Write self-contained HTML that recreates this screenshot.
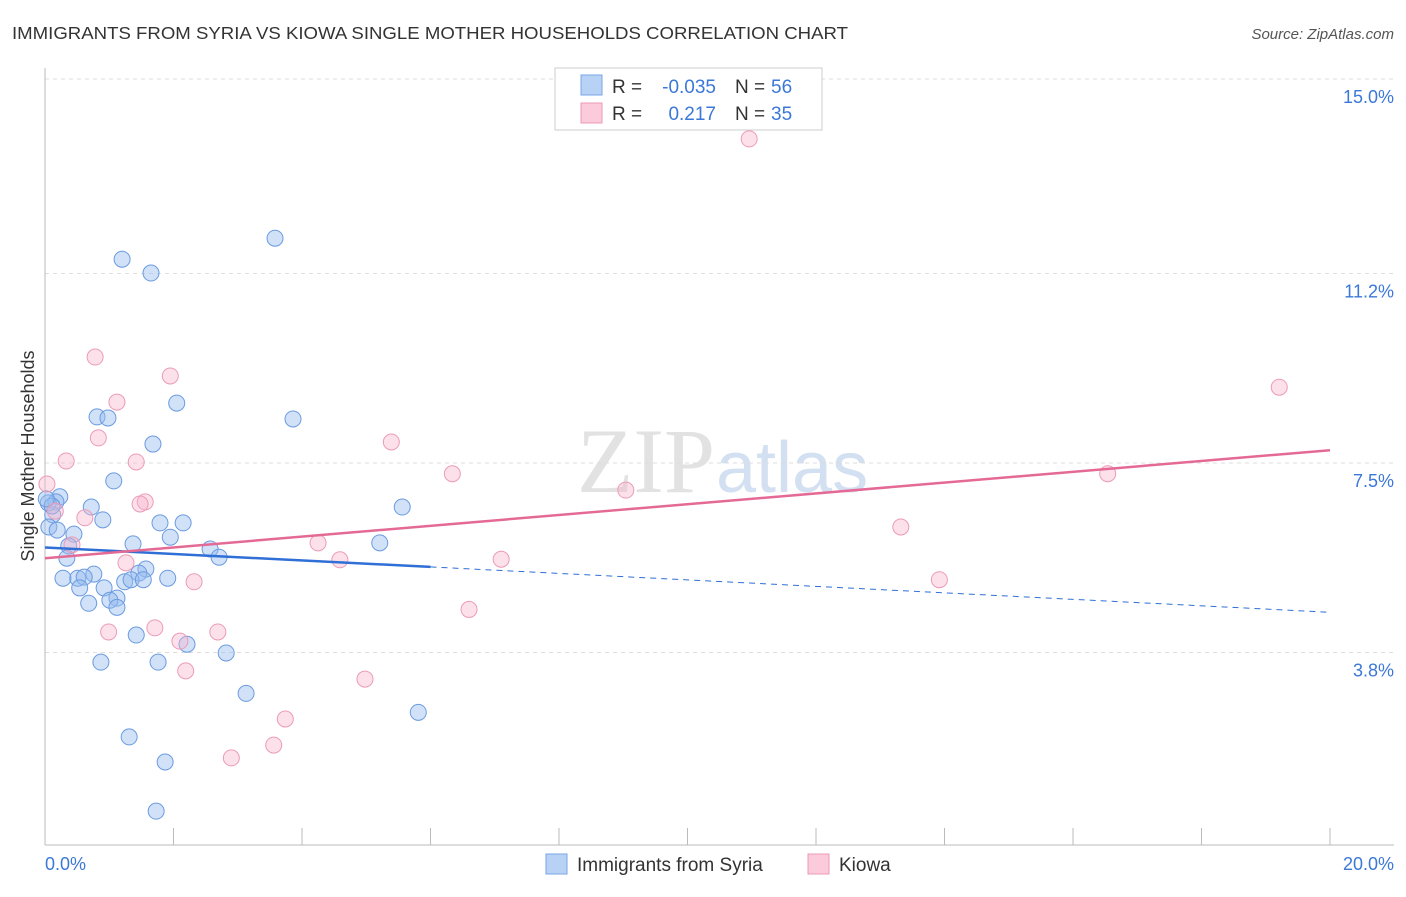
<!DOCTYPE html>
<html><head><meta charset="utf-8"><style>
body{margin:0;background:#fff;font-family:"Liberation Sans",sans-serif}
</style></head><body>
<svg id="c" width="1406" height="892" xmlns="http://www.w3.org/2000/svg">
<text x="12" y="39" font-size="17.5" fill="#333" textLength="836" lengthAdjust="spacingAndGlyphs">IMMIGRANTS FROM SYRIA VS KIOWA SINGLE MOTHER HOUSEHOLDS CORRELATION CHART</text>
<text x="1394" y="39" font-size="15" fill="#555" font-style="italic" text-anchor="end">Source: ZipAtlas.com</text>
<text x="715" y="492" font-size="92" fill="#e2e2e2" text-anchor="end" font-family="Liberation Serif">ZIP</text>
<text x="716" y="492" font-size="72" fill="#d3e0f2">atlas</text>
<g id="grid"></g><g id="axes"></g><g id="pts"></g><g id="lines"></g>
<text transform="translate(34,456) rotate(-90)" font-size="18" fill="#333" text-anchor="middle">Single Mother Households</text>
<text x="45" y="870" font-size="18" fill="#3b78d8">0.0%</text>
<text x="1394" y="870" font-size="18" fill="#3b78d8" text-anchor="end">20.0%</text>
<g font-size="19">
<rect x="555" y="68" width="267" height="62" fill="#fff" stroke="#ccc"/>
<rect x="581" y="75" width="21" height="20" fill="#b8d2f5" stroke="#7aa6e6"/>
<rect x="581" y="103" width="21" height="20" fill="#fbcadb" stroke="#ee9ab7"/>
<text x="612" y="93" fill="#333">R =</text>
<text x="716" y="93" fill="#3b78d8" text-anchor="end">-0.035</text>
<text x="735" y="93" fill="#333">N =</text>
<text x="771" y="93" fill="#3b78d8">56</text>
<text x="612" y="120" fill="#333">R =</text>
<text x="716" y="120" fill="#3b78d8" text-anchor="end">0.217</text>
<text x="735" y="120" fill="#333">N =</text>
<text x="771" y="120" fill="#3b78d8">35</text>
</g>
<g>
<rect x="546" y="854" width="21" height="20" fill="#b8d2f5" stroke="#7aa6e6"/>
<text x="577" y="871" font-size="19" fill="#333">Immigrants from Syria</text>
<rect x="808" y="854" width="21" height="20" fill="#fbcadb" stroke="#ee9ab7"/>
<text x="839" y="871" font-size="19" fill="#333">Kiowa</text>
</g>
</svg>
<script>
const yTicks=[15.0,11.2,7.5,3.8];
const yTickLabels=["15.0%","11.2%","7.5%","3.8%"];
const xTicks=[0,2,4,6,8,10,12,14,16,18,20];
const syriaX=[3.58,1.20,1.65,2.05,3.86,0.81,0.98,1.68,1.07,0.23,0.17,0.72,5.56,0.12,0.90,1.79,2.15,0.06,0.19,0.45,1.95,1.37,0.37,5.21,2.57,2.71,0.34,1.57,0.76,0.28,0.51,0.61,1.46,1.91,1.24,1.34,1.53,0.92,0.54,1.12,1.01,0.68,1.12,1.42,2.21,2.82,0.87,1.76,3.13,5.81,1.31,1.87,1.73,0.05,0.11,0.02];
const syriaY=[11.89,11.48,11.21,8.67,8.36,8.40,8.38,7.87,7.15,6.84,6.74,6.64,6.64,6.49,6.39,6.33,6.33,6.25,6.19,6.11,6.05,5.92,5.88,5.94,5.82,5.66,5.64,5.43,5.33,5.25,5.25,5.27,5.35,5.25,5.18,5.22,5.22,5.06,5.06,4.86,4.82,4.76,4.68,4.14,3.96,3.79,3.61,3.61,3.00,2.63,2.15,1.66,0.70,6.72,6.66,6.80];
const kiowaX=[10.96,0.78,1.95,1.12,0.83,5.39,0.33,1.42,6.34,19.21,16.54,9.04,1.56,1.48,0.62,0.16,13.32,4.25,4.59,7.10,1.26,2.32,13.92,6.60,0.99,1.71,2.69,2.10,2.19,4.98,3.74,3.56,2.90,0.03,0.42];
const kiowaY=[13.83,9.57,9.20,8.69,7.99,7.91,7.54,7.52,7.29,8.98,7.29,6.97,6.74,6.70,6.43,6.56,6.25,5.94,5.61,5.62,5.55,5.18,5.22,4.64,4.20,4.28,4.20,4.02,3.44,3.28,2.50,1.99,1.74,7.09,5.90];
const syriaFit=[5.85,-0.0633];
const kiowaFit=[5.64,0.1055];
const X0=45,X1=1330,Y0=79;
const sx=v=>X0+(X1-X0)*v/20, sy=v=>Y0+(15-v)*51.2;
const NS="http://www.w3.org/2000/svg";
function mk(p,t,a){const e=document.createElementNS(NS,t);for(const k in a)e.setAttribute(k,a[k]);document.getElementById(p).appendChild(e);return e;}
yTicks.forEach((v,i)=>{
 const l=mk('grid','line',{x1:45,x2:1394,y1:sy(v),y2:sy(v),stroke:'#ddd','stroke-dasharray':'4,4'});
 
 
 const t=mk('grid','text',{x:1394,y:sy(v)+24,'font-size':18,fill:'#3b78d8','text-anchor':'end'});t.textContent=yTickLabels[i];
 
 
});
const ax=mk('axes','line',{x1:45,x2:45,y1:68,y2:845,stroke:'#bbb'});


const bx=mk('axes','line',{x1:45,x2:1394,y1:845,y2:845,stroke:'#bbb'});


xTicks.forEach(v=>{const t=mk('axes','line',{x1:sx(v),x2:sx(v),y1:828,y2:845,stroke:'#bbb'});
 
 });
syriaX.forEach((v,i)=>{const c=mk('pts','circle',{cx:sx(v),cy:sy(syriaY[i]),r:8,fill:'rgba(150,188,240,0.45)',stroke:'#6b9be0','stroke-width':1});
 
 });
kiowaX.forEach((v,i)=>{const c=mk('pts','circle',{cx:sx(v),cy:sy(kiowaY[i]),r:8,fill:'rgba(248,180,205,0.4)',stroke:'#ec9bb8','stroke-width':1});
 
 });
const f=(fit,x)=>fit[0]+fit[1]*x;
const l1=mk('lines','line',{x1:sx(0),y1:sy(f(syriaFit,0)),x2:sx(6),y2:sy(f(syriaFit,6)),stroke:'#2f6fd6','stroke-width':2.5});


const l2=mk('lines','line',{x1:sx(6),y1:sy(f(syriaFit,6)),x2:sx(20),y2:sy(f(syriaFit,20)),stroke:'#2f6fd6','stroke-width':1,'stroke-dasharray':'6,5'});


const l3=mk('lines','line',{x1:sx(0),y1:sy(f(kiowaFit,0)),x2:sx(20),y2:sy(f(kiowaFit,20)),stroke:'#e46a95','stroke-width':2.5});


</script>
</body></html>
